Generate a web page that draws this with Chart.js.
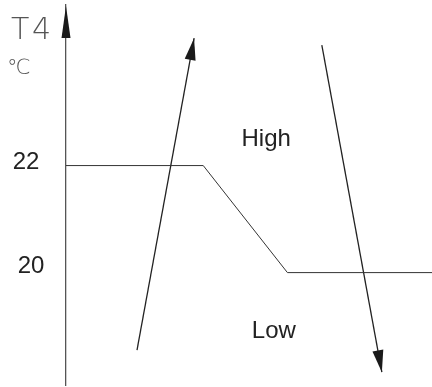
<!DOCTYPE html>
<html>
<head>
<meta charset="utf-8">
<script src="https://cdn.jsdelivr.net/npm/chart.js@4.4.1/dist/chart.umd.min.js"></script>
<style>
  html, body { margin: 0; padding: 0; background: #fff; }
  canvas { display: block; }
</style>
</head>
<body>
<canvas id="chart" width="432" height="387"></canvas>
<script>
// boundary between the two zones
const boundaryX = [0, 3.75, 6.05, 10];
const boundaryY = [22, 22, 20, 20];
// rising and falling arrows
const riseX = [1.94, 3.5];
const riseY = [18.55, 24.38];
const fallX = [6.99, 8.63];
const fallY = [24.25, 18.14];
// axis labels
const yTicks = [22, 20];
const axisTitle = 'T4';
const axisUnit = '℃';
const zoneLabels = ['High', 'Low'];

const toPoints = (xs, ys) => xs.map((x, i) => ({ x, y: ys[i] }));

const arrowPlugin = {
  id: 'arrows',
  afterDatasetsDraw(chart) {
    const ctx = chart.ctx;
    chart.data.datasets.forEach((ds, i) => {
      if (!ds.arrow) return;
      const pts = chart.getDatasetMeta(i).data;
      const a = pts[pts.length - 2], b = pts[pts.length - 1];
      const ang = Math.atan2(b.y - a.y, b.x - a.x);
      const len = 22, half = 5.5;
      ctx.save();
      ctx.translate(b.x, b.y);
      ctx.rotate(ang);
      ctx.beginPath();
      ctx.moveTo(0, 0);
      ctx.lineTo(-len, -half);
      ctx.lineTo(-len, half);
      ctx.closePath();
      ctx.fillStyle = '#1a1a1a';
      ctx.fill();
      ctx.restore();
    });
  }
};

const labelPlugin = {
  id: 'labels',
  afterDraw(chart) {
    const ctx = chart.ctx;
    const y = chart.scales.y, x = chart.scales.x;
    const area = chart.chartArea;
    ctx.save();
    // axis arrow head
    ctx.beginPath();
    ctx.moveTo(area.left, area.top + 1);
    ctx.lineTo(area.left - 4.5, area.top + 33);
    ctx.lineTo(area.left + 4.5, area.top + 33);
    ctx.closePath();
    ctx.fillStyle = '#1a1a1a';
    ctx.fill();

    // tick labels
    ctx.fillStyle = '#222';
    ctx.font = '24px "Liberation Sans", Arial, sans-serif';
    ctx.textAlign = 'center';
    ctx.textBaseline = 'middle';
    ctx.fillText(String(yTicks[0]), 26, y.getPixelForValue(yTicks[0]) - 3);
    ctx.fillText(String(yTicks[1]), 31, y.getPixelForValue(yTicks[1]) - 6);

    // axis title and unit
    ctx.fillStyle = '#555';
    ctx.font = '300 30px "DejaVu Sans ExtraLight", "DejaVu Sans", sans-serif';
    ctx.textAlign = 'left';
    ctx.textBaseline = 'alphabetic';
    ctx.fillText(axisTitle[0], 11, 39);
    ctx.fillText(axisTitle[1], 32, 39);
    ctx.font = '300 21px "DejaVu Sans ExtraLight", "DejaVu Sans", sans-serif';
    ctx.fillText(axisUnit, 7, 74);

    // zone labels
    ctx.fillStyle = '#222';
    ctx.font = '24px "Liberation Sans", Arial, sans-serif';
    ctx.textAlign = 'center';
    ctx.textBaseline = 'middle';
    ctx.fillText(zoneLabels[0], x.getPixelForValue(5.47), y.getPixelForValue(22.48));
    ctx.fillText(zoneLabels[1], x.getPixelForValue(5.68), y.getPixelForValue(18.9));
    ctx.restore();
  }
};

new Chart(document.getElementById('chart'), {
  type: 'line',
  data: {
    datasets: [
      { data: toPoints(boundaryX, boundaryY), borderColor: '#333', borderWidth: 1 },
      { data: toPoints(riseX, riseY), borderColor: '#222', borderWidth: 1.3, arrow: true },
      { data: toPoints(fallX, fallY), borderColor: '#222', borderWidth: 1.3, arrow: true }
    ]
  },
  options: {
    responsive: false,
    animation: false,
    layout: { padding: { top: 5, bottom: 2, left: 0, right: 0 } },
    elements: { point: { radius: 0 }, line: { tension: 0 } },
    plugins: { legend: { display: false }, tooltip: { enabled: false } },
    scales: {
      x: { type: 'linear', min: 0, max: 10, display: false },
      y: {
        type: 'linear', min: 17.9, max: 25,
        grid: { display: false },
        border: { display: true, color: '#555', width: 1.3 },
        ticks: { display: false },
        afterFit(scale) { scale.width = 66; }
      }
    }
  },
  plugins: [arrowPlugin, labelPlugin]
});
</script>
</body>
</html>
